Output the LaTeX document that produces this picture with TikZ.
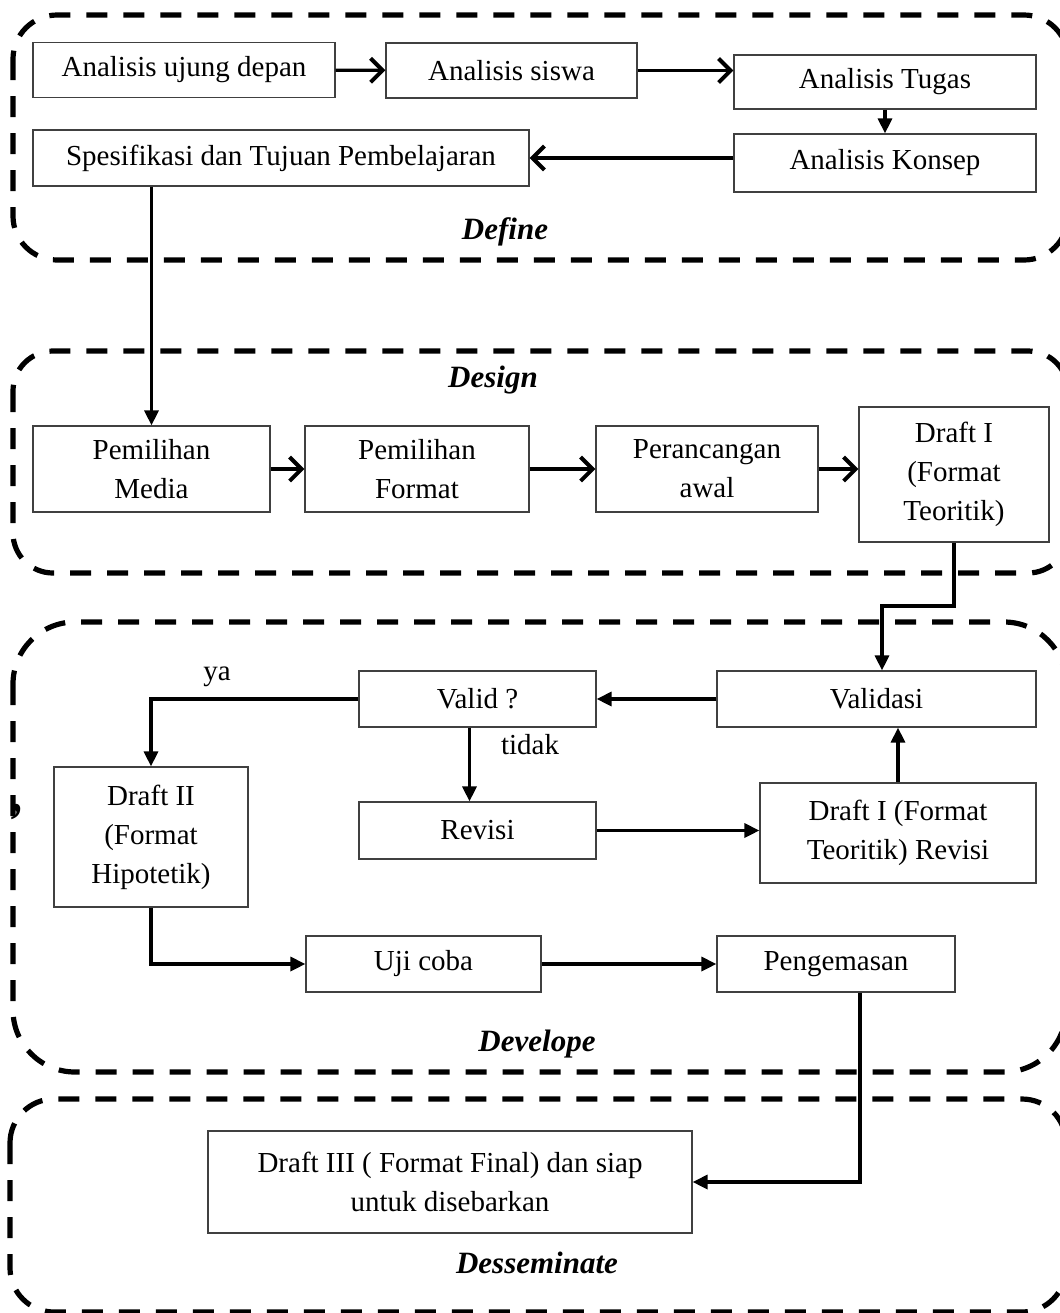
\documentclass[tikz,border=0pt]{standalone}
\usepackage{fontspec}
\setmainfont{Liberation Serif}
\usetikzlibrary{arrows.meta,positioning}
\tikzset{
  box/.style={draw=black!75, line width=0.6pt, align=center, inner sep=0pt,
    font=\fontsize{14.5}{19.5}\selectfont},
  stage/.style={line width=2.6pt, dash pattern=on 10.5pt off 8pt, rounded corners=#1},
  opn/.style={line width=1.6pt, -{Straight Barb[length=6pt,width=12pt,line width=2pt]}},
  tri/.style={line width=1.6pt, -{Triangle[length=7.5pt,width=7pt]}},
  phase/.style={font=\fontsize{15.5}{18}\selectfont\bfseries\itshape},
  lbl/.style={font=\fontsize{14.5}{18}\selectfont}
}
\begin{document}
\begin{tikzpicture}[x=0.5pt, y=-0.5pt]
  \useasboundingbox (0,0) rectangle (1060,1313);
  \clip (0,0) rectangle (1060,1313);
  % stage frames
  \draw[stage=22pt] (13,15) rectangle (1068,260);
  \draw[stage=20pt] (13,351) rectangle (1068,573);
  \draw[stage=31pt] (13,622) rectangle (1066,1072);
  \draw[stage=22pt] (10,1099) rectangle (1066,1312);
  % define
  \node[box, minimum width=151pt, minimum height=27.5pt] (ujung) at (184,70) {Analisis ujung depan};
  \node[box, minimum width=125.5pt, minimum height=27.5pt] (siswa) at (511.5,70.5) {Analisis siswa};
  \node[box, minimum width=151pt, minimum height=27pt] (tugas) at (885,82) {Analisis Tugas};
  \node[box, minimum width=151pt, minimum height=29pt] (konsep) at (885,163) {Analisis Konsep};
  \node[box, minimum width=248pt, minimum height=28pt] (tujuan) at (281,158) {Spesifikasi dan Tujuan Pembelajaran};
  \node[phase] (define) at (505,232) {Define};
  \draw[opn] (ujung) -- (siswa);
  \draw[opn] (siswa.east) -- (siswa.east -| tugas.west);
  \draw[tri] (tugas) -- (konsep);
  \draw[opn] (konsep.west |- tujuan) -- (tujuan);
  % design
  \node[phase] (design) at (493,380) {Design};
  \node[box, minimum width=118.5pt, minimum height=43pt] (media) at (151.5,469) {Pemilihan\\Media};
  \node[box, minimum width=112pt, minimum height=43pt] (format) at (417,469) {Pemilihan\\Format};
  \node[box, minimum width=111pt, minimum height=43pt] (awal) at (707,469) {Perancangan\\awal};
  \node[box, minimum width=95pt, minimum height=67.5pt] (draft1) at (954,474.5) {Draft I\\(Format\\Teoritik)};
  \draw[tri] (media.north |- tujuan.south) -- (media);
  \draw[opn] (media) -- (format);
  \draw[opn] (format) -- (awal);
  \draw[opn] (awal.east) -- (awal.east -| draft1.west);
  % develope
  \node[box, minimum width=159.5pt, minimum height=28pt] (validasi) at (876.5,699) {Validasi};
  \node[box, minimum width=118.5pt, minimum height=28pt] (valid) at (477.5,699) {Valid ?};
  \node[box, minimum width=118.5pt, minimum height=28.5pt] (revisi) at (477.5,830.5) {Revisi};
  \node[box, minimum width=138pt, minimum height=50pt] (draftrev) at (898,833) {Draft I (Format\\Teoritik) Revisi};
  \node[box, minimum width=97pt, minimum height=70pt] (draft2) at (151,837) {Draft II\\(Format\\Hipotetik)};
  \node[box, minimum width=117.5pt, minimum height=28pt] (uji) at (423.5,964) {Uji coba};
  \node[box, minimum width=119pt, minimum height=28pt] (kemas) at (836,964) {Pengemasan};
  \node[lbl] (ya) at (217,677) {ya};
  \node[lbl] (tidak) at (530,745) {tidak};
  \node[lbl, font=\fontsize{30}{30}\selectfont] (koma) at (17,812) {,};
  \node[phase] (develope) at (537,1044) {Develope};
  \coordinate (turn) at (882,606);
  \draw[tri] (draft1.south) |- (turn) -- (turn |- validasi.north);
  \draw[tri] (validasi) -- (valid);
  \draw[tri] (valid.west) -| (draft2.north);
  \draw[tri] ([xshift=-4pt]valid.south) -- ([xshift=-4pt]revisi.north);
  \draw[tri] (revisi.east) -- (revisi.east -| draftrev.west);
  \draw[tri] (draftrev.north) -- (draftrev.north |- validasi.south);
  \draw[tri] (draft2.south) |- (uji);
  \draw[tri] (uji) -- (kemas);
  % desseminate
  \node[box, minimum width=242pt, minimum height=51pt] (final) at (450,1182) {Draft III ( Format Final) dan siap\\untuk disebarkan};
  \node[phase] (dessem) at (537,1263) {Desseminate};
  \draw[tri] ([xshift=12pt]kemas.south) |- (final);
\end{tikzpicture}
\end{document}
